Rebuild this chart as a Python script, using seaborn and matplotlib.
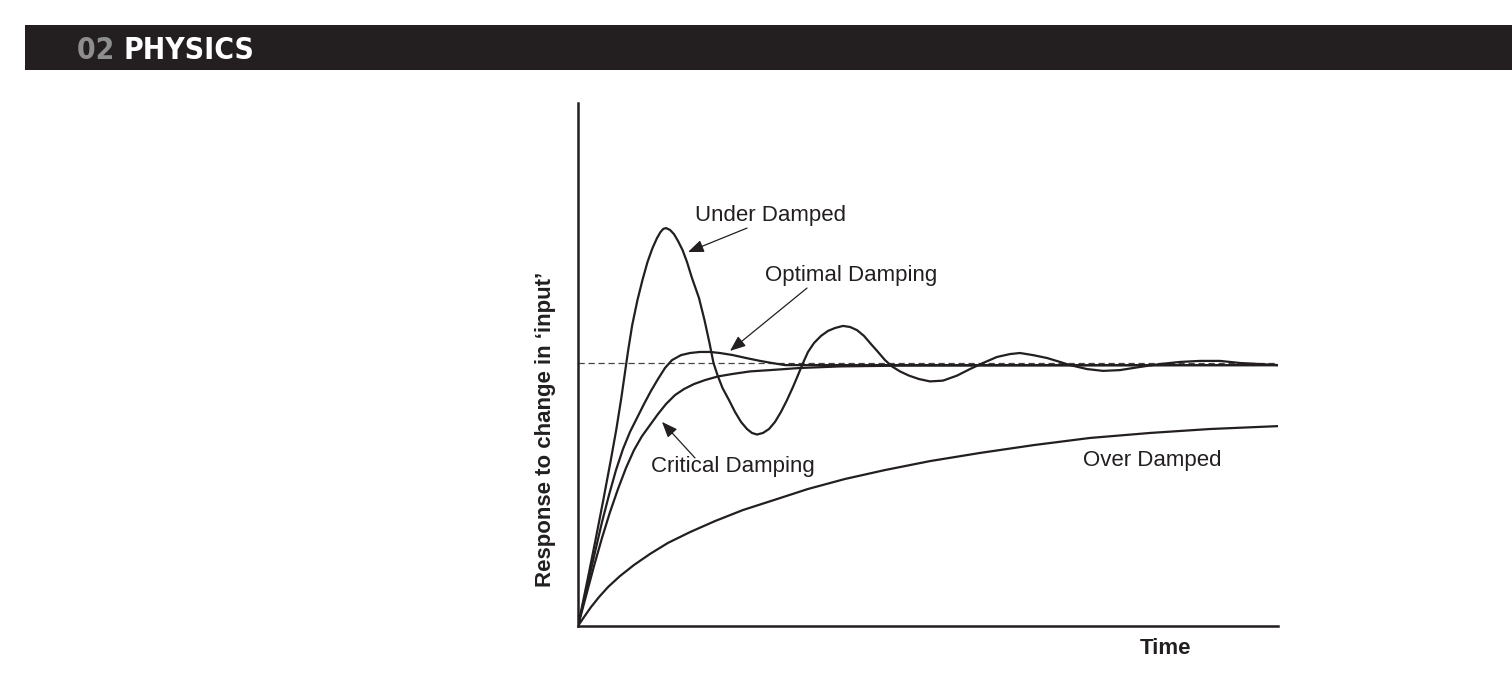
import numpy as np
import pandas as pd
import matplotlib
matplotlib.use("Agg")
import matplotlib.pyplot as plt
from matplotlib import font_manager
from matplotlib.font_manager import FontProperties
import seaborn as sns

# ---------------- data ----------------
# time axis 0..70 (arbitrary units), response where steady state (dashed line) = 1.0
under_t = [0.0, 0.95, 1.75, 2.53, 3.28, 3.82, 4.3, 4.66, 5.02, 5.42, 5.95, 6.45, 6.95, 7.45,
           7.9, 8.25, 8.53, 8.8, 9.2, 9.6, 10.0, 10.45, 10.9, 11.4, 12.1, 12.65, 13.15, 13.55,
           13.95, 14.45, 15.1, 15.7, 16.3, 16.9, 17.4, 17.9, 18.5, 19.1, 19.7, 20.3, 20.9,
           21.5, 22.0, 22.5, 23.0, 23.6, 24.3, 25.0, 25.7, 26.5, 27.2, 27.9, 28.6, 29.3, 30.0,
           30.7, 31.4, 32.2, 33.1, 34.1, 35.2, 36.5, 37.9, 39.2, 40.5, 41.9, 43.2, 44.2, 45.5,
           46.9, 48.2, 49.2, 50.9, 52.5, 54.2, 56.2, 58.2, 60.2, 62.2, 64.2, 66.2, 68.2, 70.0]
under_r = [0.0, 0.175, 0.327, 0.479, 0.631, 0.745, 0.859, 0.954, 1.049, 1.144, 1.240, 1.316,
           1.384, 1.437, 1.475, 1.498, 1.510, 1.513, 1.506, 1.490, 1.464, 1.430, 1.384, 1.323,
           1.247, 1.163, 1.076, 1.0, 0.954, 0.905, 0.859, 0.814, 0.776, 0.749, 0.734, 0.728,
           0.734, 0.749, 0.776, 0.814, 0.859, 0.909, 0.954, 1.0, 1.042, 1.076, 1.103, 1.122,
           1.133, 1.141, 1.137, 1.125, 1.103, 1.072, 1.042, 1.011, 0.987, 0.968, 0.952, 0.939,
           0.930, 0.933, 0.952, 0.977, 1.0, 1.023, 1.034, 1.038, 1.030, 1.019, 1.004, 0.992,
           0.977, 0.970, 0.973, 0.985, 0.996, 1.004, 1.008, 1.008, 1.0, 0.996, 0.992]

optimal_t = [0.0, 0.6, 1.2, 1.8, 2.4, 3.1, 3.8, 4.5, 5.2, 5.9, 6.6, 7.3, 8.0, 8.7, 9.4, 10.3,
             11.2, 12.2, 13.2, 14.2, 15.5, 16.8, 18.2, 19.4, 20.7, 70.0]
optimal_r = [0.0, 0.099, 0.198, 0.297, 0.395, 0.498, 0.593, 0.673, 0.738, 0.791, 0.844, 0.894,
             0.939, 0.981, 1.011, 1.030, 1.038, 1.042, 1.042, 1.038, 1.030, 1.019, 1.008, 1.0,
             0.992, 0.992]

critical_t = [0.0, 0.8, 1.6, 2.4, 3.2, 4.0, 4.8, 5.6, 6.4, 7.2, 8.0, 8.8, 9.7, 10.6, 11.6, 12.7,
              14.0, 15.4, 17.2, 19.2, 22.2, 26.2, 32.2, 70.0]
critical_r = [0.0, 0.114, 0.228, 0.335, 0.433, 0.521, 0.601, 0.669, 0.722, 0.764, 0.806, 0.844,
              0.878, 0.901, 0.920, 0.935, 0.949, 0.958, 0.968, 0.973, 0.981, 0.987, 0.990, 0.992]

over_t = [0.0, 0.6, 1.3, 2.1, 3.0, 4.2, 5.6, 7.2, 9.0, 11.2, 13.7, 16.5, 19.6, 23.0, 26.7, 30.7,
          35.2, 40.2, 45.6, 51.2, 57.2, 63.2, 70.0]
over_r = [0.0, 0.034, 0.072, 0.110, 0.148, 0.190, 0.232, 0.274, 0.316, 0.357, 0.399, 0.441,
          0.479, 0.521, 0.559, 0.593, 0.627, 0.658, 0.688, 0.715, 0.734, 0.749, 0.760]

steady_level = 1.0

labels = ["Under Damped", "Optimal Damping", "Critical Damping", "Over Damped"]
x_label = "Time"
y_label = "Response to change in \u2018input\u2019"
header_num = "02"
header_word = "PHYSICS"

# ---------------- style ----------------
sns.set_style("white")
avail = {f.name for f in font_manager.fontManager.ttflist}
base_font = "Liberation Sans" if "Liberation Sans" in avail else "DejaVu Sans"
plt.rcParams["font.family"] = [base_font, "DejaVu Sans"]

# condensed bold font for the header, if one is installed
head_path = None
for f in font_manager.fontManager.ttflist:
    fn = f.fname.lower()
    if ("narrow" in fn or "condensed" in fn) and "bold" in fn and "italic" not in fn \
            and "oblique" not in fn:
        if head_path is None or "liberation" in fn:
            head_path = f.fname

ink = "#231f20"

fig = plt.figure(figsize=(15.12, 6.75), dpi=100)
ax = fig.add_axes([578 / 1512, (675 - 626) / 675, 700 / 1512, 523 / 675])

curves = [(under_t, under_r), (optimal_t, optimal_r), (critical_t, critical_r), (over_t, over_r)]
for t, r in curves:
    df = pd.DataFrame({"t": t, "r": r})
    sns.lineplot(data=df, x="t", y="r", ax=ax, color=ink, lw=1.6, estimator=None,
                 sort=False, legend=False)
for line in ax.lines:
    line.set_solid_joinstyle("round")
    line.set_solid_capstyle("round")

ax.axhline(steady_level, color="#444444", lw=0.9, ls=(0, (5, 3)), zorder=1)

ax.set_xlim(0, 70)
ax.set_ylim(0, 523 / 263)
ax.set_xticks([])
ax.set_yticks([])
ax.set_xlabel("")
ax.set_ylabel("")
for s in ["top", "right"]:
    ax.spines[s].set_visible(False)
for s in ["left", "bottom"]:
    ax.spines[s].set_color(ink)
    ax.spines[s].set_linewidth(1.8)

arrow_kw = dict(arrowstyle="-|>,head_length=0.95,head_width=0.38", color=ink, lw=0.9,
                shrinkA=0, shrinkB=0)
fs = 16

ax.text(11.7, 1.559, labels[0], fontsize=fs, ha="left", va="center", color=ink)
ax.annotate("", xy=(11.0, 1.422), xytext=(16.9, 1.513), arrowprops=arrow_kw)

ax.text(18.7, 1.331, labels[1], fontsize=fs, ha="left", va="center", color=ink)
ax.annotate("", xy=(15.2, 1.046), xytext=(22.9, 1.285), arrowprops=arrow_kw)

ax.text(7.3, 0.605, labels[2], fontsize=fs, ha="left", va="center", color=ink)
ax.annotate("", xy=(8.4, 0.776), xytext=(11.7, 0.639), arrowprops=arrow_kw)

ax.text(50.5, 0.631, labels[3], fontsize=fs, ha="left", va="center", color=ink)

fig.text(1166 / 1512, 1 - 648 / 675, x_label, fontsize=fs, fontweight="bold",
         ha="center", va="center", color=ink)
fig.text(546 / 1512, 1 - 429 / 675, y_label, fontsize=fs, fontweight="bold",
         rotation=90, ha="center", va="center", color=ink)

# header bar
bar = fig.add_axes([25 / 1512, 1 - 70 / 675, 1 - 25 / 1512, 45 / 675])
bar.set_facecolor("#231f20")
bar.set_xticks([])
bar.set_yticks([])
for s in bar.spines.values():
    s.set_visible(False)


def head_props(size):
    if head_path is not None:
        return FontProperties(fname=head_path, size=size)
    return FontProperties(family=[base_font, "DejaVu Sans"], weight="bold", size=size)


def draw_header(size):
    fp = head_props(size)
    t1 = bar.text(52 / 1487, 0.44, header_num + " ", fontproperties=fp, color="#8e8e8e",
                  ha="left", va="center", transform=bar.transAxes)
    fig.canvas.draw()
    bb = t1.get_window_extent()
    x_next = bar.transAxes.inverted().transform((bb.x1, bb.y0))[0]
    t2 = bar.text(x_next, 0.44, header_word, fontproperties=fp, color="white",
                  ha="left", va="center", transform=bar.transAxes)
    fig.canvas.draw()
    return t1, t2, t2.get_window_extent().x1 - bb.x0


size0 = 25
t1, t2, w = draw_header(size0)
target = 168.0
factor = target / w
factor = max(factor, 0.86)
if abs(factor - 1) > 0.02:
    t1.remove()
    t2.remove()
    draw_header(size0 * factor)

fig.savefig("out.png", dpi=100, facecolor="white")
